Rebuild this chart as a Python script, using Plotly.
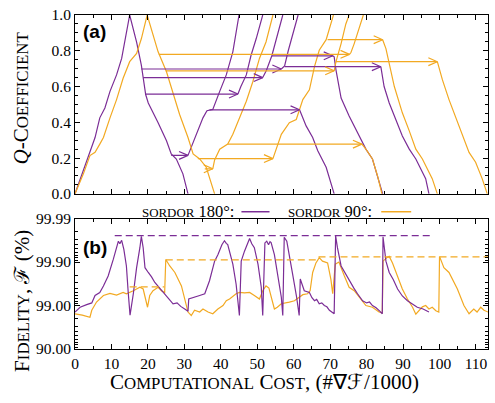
import math
import plotly.graph_objects as go

PURPLE = "#7b2d96"
ORANGE = "#f2a922"
SERIF = "Liberation Serif"

# ---------------- (a) Q-coefficient trajectories ----------------
# SORDOR 180 deg (purple)
p1_x = [0, 2.7, 5.5, 6.8, 8.2, 9.6, 11.4, 12.8, 13.7, 15.0, 16.9, 18.2, 19.4, 20.1, 22.8, 25.1, 26.4, 27.8, 29.6, 31.0]
p1_q = [0, 0.149, 0.315, 0.425, 0.48, 0.573, 0.665, 0.757, 0.849, 1.0, 0.849, 0.72, 0.554, 0.508, 0.398, 0.297, 0.223, 0.195, 0.112, 0.0]
p2_x = [31.0, 33.7, 35.1, 36.2, 37.8, 39.7, 41.5, 43.3, 45.0]
p2_q = [0.215, 0.352, 0.425, 0.465, 0.472, 0.573, 0.665, 0.794, 1.0]
p3_x = [44.7, 45.5, 47.0, 48.3, 49.7, 51.5]
p3_q = [0.558, 0.6, 0.665, 0.775, 0.867, 1.0]
p4_x = [51.5, 52.5, 54.0, 55.2, 56.2, 57.0]
p4_q = [0.65, 0.69, 0.772, 0.86, 0.94, 1.0]
p5_x = [56.6, 57.5, 58.5, 59.8, 61.2]
p5_q = [0.698, 0.715, 0.8, 0.9, 1.0]
p6_x = [61.6, 63.4, 65.2, 66.6, 68.9, 70.2, 71.1]
p6_q = [0.47, 0.38, 0.315, 0.241, 0.149, 0.057, 0.0]
p7_x = [70.7, 71.1, 71.6, 72.5, 73.0, 75.2, 78.0, 79.8, 81.6, 84.4]
p7_q = [0.772, 0.766, 0.692, 0.582, 0.536, 0.435, 0.324, 0.25, 0.195, 0.0]
p8_x = [83.9, 84.8, 86.2, 88.0, 89.8, 91.7, 93.5, 96.2, 97.1]
p8_q = [0.711, 0.6, 0.508, 0.416, 0.324, 0.25, 0.195, 0.085, 0.0]

# SORDOR 90 deg (orange)
o1_x = [0, 2.3, 4.1, 5.5, 6.8, 7.8, 9.6, 11.4, 13.2, 15.0, 16.9, 18.2, 19.8, 22.8, 25.1, 28.7, 31.0, 32.4, 34.2, 36.0, 38.3]
o1_q = [0, 0.112, 0.214, 0.232, 0.278, 0.315, 0.425, 0.527, 0.646, 0.739, 0.785, 0.867, 1.0, 0.794, 0.683, 0.444, 0.315, 0.223, 0.195, 0.149, 0.0]
o2_x = [37.8, 38.3, 39.7, 41.9, 43.3, 45.1, 47.0, 48.8, 50.6, 52.4, 54.3]
o2_q = [0.14, 0.19, 0.25, 0.278, 0.333, 0.425, 0.518, 0.628, 0.757, 0.849, 1.0]
o3_x = [54.3, 55.2, 56.6, 58.8, 60.7, 62.5, 64.3, 65.7, 67.0, 68.9, 70.9]
o3_q = [0.197, 0.25, 0.333, 0.398, 0.416, 0.527, 0.582, 0.711, 0.803, 0.862, 1.0]
o4_x = [71.1, 71.6, 73.0, 74.3, 75.2]
o4_q = [0.688, 0.739, 0.84, 0.95, 1.0]
o5_x = [75.3, 75.7, 76.6, 78.0, 79.1]
o5_q = [0.78, 0.79, 0.84, 0.93, 1.0]
o6_x = [78.7, 79.8, 81.6, 83.0, 84.2]
o6_q = [0.278, 0.25, 0.195, 0.1, 0.0]
o7_x = [84.4, 85.3, 87.6, 89.8, 91.7, 93.5, 95.3, 98.0, 99.4]
o7_q = [0.862, 0.812, 0.6, 0.453, 0.352, 0.25, 0.195, 0.085, 0.0]
o8_x = [99.4, 100.8, 102.6, 105.3, 108.1, 109.9, 111.7, 113.1]
o8_q = [0.739, 0.637, 0.527, 0.38, 0.232, 0.177, 0.085, 0.0]

# restart arrows (from cost x0 to x1 at Q level)
p_arrow_x0 = [26.4, 19.4, 18.7, 18.2, 36.9, 54.0, 57.5]
p_arrow_x1 = [31.0, 44.7, 51.5, 56.6, 61.6, 70.7, 83.9]
p_arrow_q = [0.215, 0.558, 0.65, 0.698, 0.47, 0.772, 0.711]
o_arrow_x0 = [35.6, 33.7, 41.9, 23.0, 24.9, 69.3, 71.6]
o_arrow_x1 = [37.8, 54.3, 78.7, 75.3, 71.1, 84.4, 99.4]
o_arrow_q = [0.14, 0.197, 0.278, 0.78, 0.688, 0.862, 0.739]

# ---------------- (b) Fidelity (as nines: -log10(1-F)) ----------------
pf_x = [0, 1.4, 3.2, 4.6, 5.5, 6.8, 7.8, 9.1, 10.5, 11.4, 11.9, 12.3, 12.8, 13.4, 14.1, 14.6, 15.1, 16.0, 16.9, 17.8,
        18.2, 18.7, 19.2, 20.1, 21.0, 21.9, 23.0, 24.2, 25.5, 26.9, 28.0, 29.0, 30.1, 31.0, 31.2, 32.5, 34.2, 35.6, 36.9,
        38.3, 39.2, 40.3, 41.0, 41.5, 41.9, 43.3, 44.2, 45.1, 45.6, 46.5, 47.4, 47.9, 48.5, 49.2, 50.2, 51.1, 51.5, 52.1,
        52.6, 53.1, 53.5, 53.8, 54.7, 55.6, 56.6, 57.0, 57.4, 58.1, 58.8, 59.7, 60.8, 61.5, 61.8, 62.9, 64.3, 65.0, 65.7,
        66.3, 67.0, 67.7, 68.4, 69.1, 69.8, 71.1, 71.5, 72.0, 73.0, 74.3, 75.7, 76.5, 77.5, 78.9, 80.0, 80.8, 81.6, 82.6,
        83.6, 84.3, 84.5, 85.3, 86.2, 87.3, 88.5, 89.8, 91.2, 92.5, 93.9, 95.5, 97.1]
pf_n = [-0.15, -0.04, 0.02, 0.06, 0.23, 0.30, 0.45, 0.68, 1.06, 1.36, 1.48, 1.42, 1.50, 1.29, 0.91, 0.30, -0.22, 0.27, 0.87, 1.33,
        1.59, 1.33, 0.87, 0.76, 0.66, 0.53, 0.42, 0.30, 0.18, 0.04, 0.06, -0.02, -0.08, -0.13, 0.15, 0.18, 0.23, 0.27, 0.57,
        1.02, 1.17, 1.40, 1.49, 1.43, 1.40, 0.95, 0.49, -0.23, 1.02, 1.25, 1.44, 1.54, 1.42, 1.33, 0.95, 0.42, -0.23, 1.44,
        1.48, 1.40, 1.47, 1.45, 1.17, 0.72, 0.19, -0.23, 1.57, 1.48, 1.17, 0.72, 0.19, -0.23, 0.61, 0.34, 0.30, 0.18, 0.11,
        0.14, 0.04, 0.06, 0.0, -0.03, -0.11, -0.19, 1.60, 1.33, 0.91, 0.72, 0.49, 0.40, 0.27, 0.11, 0.06, 0.08, 0.0, -0.05,
        -0.13, -0.19, 1.58, 1.02, 0.76, 0.60, 0.38, 0.22, 0.11, 0.04, -0.04, -0.08, -0.15]
of_x = [0, 2.0, 4.1, 4.6, 5.9, 7.8, 9.6, 11.4, 13.2, 14.1, 16.0, 17.8, 18.7, 19.4, 19.9, 20.5, 21.4, 22.8, 23.7, 24.6,
        24.9, 26.0, 27.4, 29.2, 30.6, 31.0, 31.9, 32.8, 34.2, 35.1, 36.5, 37.8, 39.2, 40.6, 41.5, 42.4, 44.2, 45.1, 46.5,
        47.9, 49.2, 50.6, 51.5, 52.4, 53.2, 54.0, 54.7, 55.5, 56.6, 58.8, 60.2, 62.5, 63.8, 64.5, 65.2, 66.1, 67.0, 67.9,
        69.3, 70.2, 70.7, 71.4, 72.4, 73.9, 75.2, 76.6, 78.0, 78.9, 79.8, 81.6, 83.4, 84.3, 84.5, 85.5, 86.2, 87.1, 88.5,
        89.8, 91.2, 92.6, 93.5, 94.4, 95.3, 96.2, 97.1, 98.0, 99.0, 99.8, 100.0, 101.2, 102.6, 104.9, 106.7, 108.1, 109.4,
        110.3, 111.3, 112.2, 113.3]
of_n = [-0.19, -0.22, -0.27, -0.11, 0.08, 0.23, 0.28, 0.24, 0.30, 0.27, 0.34, 0.42, 0.38, 0.15, -0.04, 0.23, 0.34, 0.42, 0.34, 0.30,
        1.06, 0.91, 0.76, 0.45, 0.0, -0.15, -0.23, -0.11, -0.15, -0.08, -0.15, -0.19, -0.08, 0.0, 0.11, 0.15, 0.27, 0.30, 0.29,
        0.30, 0.23, 0.15, 0.34, 0.45, 0.40, 0.15, -0.08, -0.04, 0.04, 0.08, 0.11, 0.25, 0.27, 0.34, 0.76, 0.98, 1.10, 1.02,
        0.98, 0.60, 0.27, 0.95, 1.00, 0.68, 0.42, 0.34, 0.19, 0.08, 0.0, -0.04, -0.15, -0.17, 1.02, 1.10, 1.13, 0.98, 0.68,
        0.38, 0.15, -0.04, -0.20, -0.11, -0.03, 0.0, -0.08, -0.04, -0.12, -0.15, 1.13, 0.87, 0.76, 0.38, 0.0, -0.19, -0.08,
        -0.15, -0.04, -0.11, -0.15]

# best-so-far (dashed)
p_best_x = [10.9, 97.6]
p_best_n = [1.61, 1.61]
o_best_x = [[15.0, 24.5], [24.9, 66.5], [66.8, 113.3]]
o_best_n = [0.43, 1.05, 1.12]

fid_tickvals = [-1, 0, 1, 2]
fid_ticktext = ["90.00", "99.00", "99.90", "99.99"]

XMAX = 113.3

fig = go.Figure()
LW = 1.2

def add_curve(x, y, color, xa="x", ya="y", dash=None):
    fig.add_trace(go.Scatter(x=x, y=y, mode="lines", xaxis=xa, yaxis=ya,
                             line=dict(color=color, width=LW, dash=dash),
                             showlegend=False, hoverinfo="skip"))

for xs, qs in [(p1_x, p1_q), (p2_x, p2_q), (p3_x, p3_q), (p4_x, p4_q),
               (p5_x, p5_q), (p6_x, p6_q), (p7_x, p7_q), (p8_x, p8_q)]:
    add_curve(xs, qs, PURPLE)
for xs, qs in [(o1_x, o1_q), (o2_x, o2_q), (o3_x, o3_q), (o4_x, o4_q),
               (o5_x, o5_q), (o6_x, o6_q), (o7_x, o7_q), (o8_x, o8_q)]:
    add_curve(xs, qs, ORANGE)

# arrows with open chevron heads (size in pixels converted through axis scale)
PLOT_W_PX, TOP_H_PX = 414.0, 181.0
HEAD_LEN = 9.0 * XMAX / PLOT_W_PX
HEAD_HALF = 4.0 / TOP_H_PX

def add_arrows(x0s, x1s, qs, color):
    xs, ys = [], []
    for a, b, q in zip(x0s, x1s, qs):
        xs += [a, b, None, b - HEAD_LEN, b, b - HEAD_LEN, None]
        ys += [q, q, None, q + HEAD_HALF, q, q - HEAD_HALF, None]
    add_curve(xs, ys, color)

add_arrows(p_arrow_x0, p_arrow_x1, p_arrow_q, PURPLE)
add_arrows(o_arrow_x0, o_arrow_x1, o_arrow_q, ORANGE)

# bottom panel
add_curve(of_x, of_n, ORANGE, "x2", "y2")
add_curve(pf_x, pf_n, PURPLE, "x2", "y2")
add_curve(p_best_x, p_best_n, PURPLE, "x2", "y2", dash="7px,4px")
for seg, n in zip(o_best_x, o_best_n):
    add_curve(seg, [n, n], ORANGE, "x2", "y2", dash="7px,4px")

minor_fid = []
for d in [-1, 0, 1]:
    for k in range(2, 10):
        minor_fid.append(d + 1 - math.log10(k))

tickfont = dict(family=SERIF, size=15.5, color="black")
axis_common = dict(showline=True, linecolor="black", linewidth=1, mirror="ticks",
                   ticks="inside", ticklen=5, tickwidth=1, tickcolor="black",
                   showgrid=False, zeroline=False, tickfont=tickfont)

fig.update_layout(
    width=495, height=403,
    margin=dict(l=75, r=6, t=11, b=54),
    paper_bgcolor="white", plot_bgcolor="white",
    showlegend=False,
    xaxis=dict(domain=[0, 1], anchor="y", range=[0, XMAX], dtick=10, tick0=0,
               showticklabels=False,
               minor=dict(dtick=5, ticks="inside", ticklen=3, tickcolor="black"),
               **axis_common),
    yaxis=dict(domain=[0.4645, 1], anchor="x", range=[0, 1], dtick=0.2, tickformat=".1f",
               minor=dict(dtick=0.05, ticks="inside", ticklen=3, tickcolor="black"),
               **axis_common),
    xaxis2=dict(domain=[0, 1], anchor="y2", range=[0, XMAX], dtick=10, tick0=0,
                minor=dict(dtick=5, ticks="inside", ticklen=3, tickcolor="black"),
                **axis_common),
    yaxis2=dict(domain=[0, 0.3905], anchor="x2", range=[-1, 2], tickmode="array",
                tickvals=fid_tickvals, ticktext=fid_ticktext,
                minor=dict(tickmode="array", tickvals=minor_fid, ticks="inside", ticklen=3, tickcolor="black"),
                **axis_common),
)


def small_caps(text, size, ratio=0.8):
    """Render lowercase letters as enlarged small capitals."""
    out, run = [], ""
    small = round(size * ratio, 1)
    for ch in text:
        if ch.isalpha() and ch.islower():
            run += ch.upper()
        else:
            if run:
                out.append(f"<span style='font-size:{small}px'>{run}</span>")
                run = ""
            out.append(ch)
    if run:
        out.append(f"<span style='font-size:{small}px'>{run}</span>")
    return "".join(out)


TS = 21
title_font = dict(family=SERIF, size=TS, color="black")
fig.add_annotation(xref="paper", yref="paper", x=0.459, y=-0.10, xanchor="center", yanchor="middle",
                   text=small_caps("Computational Cost, ", TS) + "(#∇ℱ/1000)", showarrow=False, font=title_font)
fig.add_annotation(xref="paper", yref="paper", x=-0.13, y=0.751, xanchor="center", yanchor="middle",
                   textangle=-90, text="<i>Q</i>-" + small_caps("Coefficient", TS), showarrow=False, font=title_font)
fig.add_annotation(xref="paper", yref="paper", x=-0.13, y=0.145, xanchor="center", yanchor="middle",
                   textangle=-90, text=small_caps("Fidelity, ", TS) + "ℱ (%)", showarrow=False, font=title_font)

# panel labels
lab_font = dict(family="Liberation Sans", size=19, color="black", weight="bold")
fig.add_annotation(xref="paper", yref="paper", x=0.0476, y=0.9497, xanchor="center", yanchor="middle",
                   text="<b>(a)</b>", showarrow=False, font=lab_font)
fig.add_annotation(xref="paper", yref="paper", x=0.0476, y=0.3047, xanchor="center", yanchor="middle",
                   text="<b>(b)</b>", showarrow=False, font=lab_font)

# legend (text followed by line sample)
LS = 16.5
leg_font = dict(family=SERIF, size=LS, color="black")
fig.add_annotation(xref="paper", yref="paper", x=0.391, y=0.411, xanchor="right", yanchor="middle",
                   text=small_caps("sordor", LS, 0.78) + " 180°:", showarrow=False, font=leg_font)
fig.add_annotation(xref="paper", yref="paper", x=0.7246, y=0.411, xanchor="right", yanchor="middle",
                   text=small_caps("sordor", LS, 0.78) + " 90°:", showarrow=False, font=leg_font)
fig.add_shape(type="line", xref="paper", yref="paper", x0=0.403, x1=0.471, y0=0.411, y1=0.411,
              line=dict(color=PURPLE, width=1.5))
fig.add_shape(type="line", xref="paper", yref="paper", x0=0.7415, x1=0.814, y0=0.411, y1=0.411,
              line=dict(color=ORANGE, width=1.5))

fig.write_html("out.html")
